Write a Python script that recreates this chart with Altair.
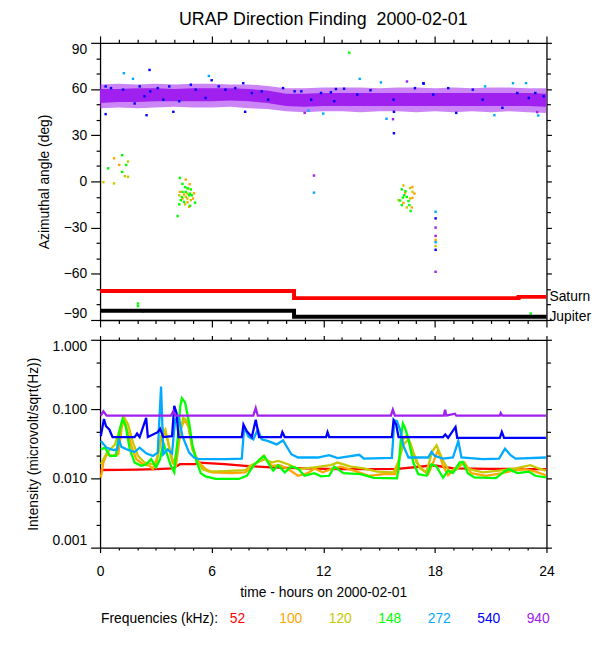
import altair as alt
import pandas as pd

FONT = "Liberation Sans"

# ---------------- categories / colours ----------------
FREQS = ["52", "100", "120", "148", "272", "540", "940"]
COLORS = ["#ff0000", "#ffa500", "#c8c800", "#00ff00", "#00aaff", "#0000ff", "#a020f0"]
PURPLE = "#a020f0"

# ---------------- top panel: azimuth (deg) ----------------
band_h = [0, 1, 2, 3, 4, 5, 6, 7, 8, 9, 10, 11, 12, 13, 14, 15, 16, 17, 18, 19, 20, 21, 22, 23, 24]
core_lo = [51.0, 51.5, 51.5, 52.0, 52.0, 52.0, 52.0, 52.5, 52.0, 51.0, 49.0, 48.5, 49.0, 49.0, 49.0,
           49.0, 49.0, 49.0, 49.0, 49.0, 49.0, 49.0, 49.0, 49.0, 48.5]
core_hi = [60.0, 60.0, 60.5, 60.5, 60.0, 60.5, 60.5, 60.5, 60.0, 59.0, 57.0, 57.0, 57.5, 57.5, 57.5,
           57.5, 57.5, 57.5, 57.5, 57.5, 57.5, 57.5, 57.5, 57.5, 57.0]
fringe_lo = [47.5, 48.0, 47.5, 48.0, 48.5, 48.0, 48.0, 48.5, 47.5, 47.0, 45.5, 45.0, 45.5, 45.5, 45.0,
             45.5, 45.5, 45.0, 45.5, 45.0, 45.5, 45.0, 45.5, 45.0, 44.5]
fringe_hi = [63.0, 63.5, 63.0, 63.5, 63.0, 63.5, 63.5, 63.0, 63.0, 62.0, 60.5, 60.5, 61.0, 61.0, 61.0,
             60.5, 61.0, 61.0, 60.5, 61.0, 60.5, 61.0, 61.0, 60.5, 60.5]

sc100_h = [0.75, 1.03, 4.61, 4.82, 4.29, 5.05, 4.52, 4.43, 5.00, 4.70, 4.79, 16.79, 16.90, 16.40, 16.31, 16.76, 16.79, 18.04]
sc100_d = [15.0, 10.7, 1.2, -1.8, -6.8, -7.7, -8.5, -11.1, -11.1, -13.6, -16.5, -3.7, -7.9, -7.3, -13.9, -16.9, -10.7, -38.0]

sc120_h = [0.18, 0.75, 1.33, 1.50, 1.50, 4.75, 4.70, 4.26, 4.61, 4.70, 4.88, 4.57, 16.31, 16.67, 16.67, 16.49, 16.05, 16.80, 18.04]
sc120_d = [-0.5, -1.3, 3.4, 3.0, 12.9, -4.7, -7.9, -9.0, -10.1, -11.1, -12.2, -14.9, -2.6, -4.3, -11.1, -16.9, -12.2, -6.8, -42.0]

sc148_h = [0.44, 1.19, 1.19, 1.40, 4.29, 4.43, 4.57, 4.70, 4.88, 4.43, 4.61, 4.84, 4.40, 4.79, 4.93, 4.34, 4.52, 4.26,
           4.84, 5.11, 4.17, 2.04, 2.04, 13.40, 23.15, 16.22, 16.35, 16.28, 16.49, 16.13, 16.58, 16.22, 16.70, 16.42, 16.63]
sc148_d = [8.5, 17.0, 6.2, 10.7, 2.3, -1.6, -3.7, -4.4, -5.2, -6.8, -6.8, -7.9, -10.1, -9.0, -9.0, -12.2, -13.3, -14.9,
           -15.8, -13.8, -22.5, -79.3, -81.0, 83.6, -85.8, -5.2, -9.0, -10.5, -10.1, -12.4, -12.8, -15.4, -19.2, -6.4, -15.4]

sc272_h = [2.30, 11.50, 1.28, 1.77, 5.85, 13.96, 15.10, 22.90, 22.20, 20.70, 15.40, 12.00, 11.20, 21.20, 23.56, 18.04, 18.04]
sc272_d = [-84.5, -7.3, 70.3, 66.6, 68.5, 66.6, 64.3, 63.8, 63.8, 61.7, 40.7, 44.0, 46.0, 43.0, 42.8, -19.7, -39.5]

sc940_h = [11.50, 11.00, 16.50, 23.50, 15.75, 18.04, 18.04, 18.04]
sc940_d = [3.8, 44.5, 64.9, 45.0, 40.4, -30.0, -35.4, -58.7]

sc540_h = [2.66, 0.30, 2.50, 3.94, 7.80, 15.80, 15.80, 17.40, 7.70, 6.00, 18.04, 18.04,
           0.30, 0.59, 1.24, 1.86, 2.13, 2.39, 2.70, 3.10, 3.40, 3.72, 4.26, 4.88, 5.14, 5.67, 6.38,
           6.74, 7.27, 8.16, 8.69, 9.04, 9.84, 10.46, 10.82, 11.35, 11.88, 12.41, 12.59, 12.68, 13.12,
           13.83, 14.54, 15.78, 16.93, 17.38, 17.91, 18.72, 19.15, 20.04, 20.57, 21.63, 22.43, 23.05, 23.40, 23.85]
sc540_d = [72.4, 43.7, 43.0, 45.2, 45.2, 45.2, 31.3, 63.5, 63.8, 65.7, -24.0, -44.4,
           61.7, 60.6, 59.6, 50.6, 61.7, 55.3, 58.5, 60.6, 53.1, 61.7, 52.1, 62.8, 59.6, 54.2, 61.7,
           59.6, 60.6, 57.4, 58.5, 53.1, 60.6, 58.5, 58.5, 53.1, 57.4, 57.9, 52.1, 60.0, 60.2,
           56.4, 59.2, 53.1, 60.6, 63.8, 56.4, 60.6, 44.5, 59.6, 53.1, 47.8, 57.4, 54.2, 57.4, 55.3]

planet_h = [0.0, 10.43, 22.5, 24.0]
saturn_deg = [-71.2, -75.8, -75.0, -75.0]
jupiter_deg = [-84.0, -87.9, -87.9, -87.9]

# ---------------- bottom panel: intensity ----------------
h52 = [0.0, 1.0, 2.0, 3.0, 3.9, 4.3, 5.1, 5.3, 6.7, 7.8, 9.2, 11.0, 12.8, 14.5, 16.0, 17.7, 18.1, 19.0, 21.0, 23.0, 24.0]
v52 = [0.0132, 0.0133, 0.0134, 0.0136, 0.0139, 0.0160, 0.0160, 0.0169, 0.0160, 0.0152, 0.0144, 0.0139, 0.0136,
       0.0136, 0.0137, 0.0152, 0.0152, 0.0139, 0.0137, 0.0136, 0.0136]

h100 = [0.04, 0.18, 0.35, 0.62, 0.98, 1.15, 1.28, 1.45, 1.68, 1.95, 2.30, 2.66, 2.84, 3.10, 3.40, 3.63, 3.90, 4.08,
        4.34, 4.52, 4.75, 4.96, 5.32, 5.67, 6.03, 7.09, 7.80, 8.16, 8.51, 8.78, 9.22, 9.66, 10.11, 10.64, 11.17,
        11.52, 11.97, 12.41, 12.94, 13.65, 14.45, 15.25, 15.87, 16.05, 16.28, 16.45, 16.67, 17.02, 17.38, 17.64,
        17.91, 18.17, 18.44, 18.71, 19.06, 19.59, 19.95, 20.74, 21.63, 22.16, 22.87, 23.40, 23.97]
v100 = [0.0103, 0.0169, 0.0223, 0.0211, 0.0223, 0.0507, 0.0720, 0.0507, 0.0293, 0.0189, 0.0160, 0.0152, 0.0136,
        0.0211, 0.0500, 0.0365, 0.0169, 0.0152, 0.0507, 0.0704, 0.0566, 0.0262, 0.0169, 0.0136, 0.0122, 0.0119,
        0.0122, 0.0144, 0.0179, 0.0211, 0.0152, 0.0155, 0.0136, 0.0109, 0.0119, 0.0139, 0.0122, 0.0136, 0.0148,
        0.0129, 0.0109, 0.0115, 0.0115, 0.0169, 0.0365, 0.0407, 0.0327, 0.0169, 0.0129, 0.0115, 0.0169, 0.0257,
        0.0152, 0.0111, 0.0139, 0.0169, 0.0119, 0.0109, 0.0119, 0.0129, 0.0136, 0.0125, 0.0111]

h120 = [0.04, 0.35, 0.80, 1.06, 1.28, 1.51, 1.77, 2.04, 2.39, 2.84, 3.01, 3.28, 3.51, 3.81, 3.99, 4.22, 4.47, 4.70,
        4.96, 5.23, 5.50, 5.85, 6.74, 7.80, 8.07, 8.51, 8.87, 9.22, 9.57, 10.11, 10.64, 11.52, 12.41, 12.77, 13.48,
        14.18, 14.89, 15.78, 16.05, 16.31, 16.58, 16.84, 17.20, 17.55, 17.87, 18.09, 18.44, 18.79, 19.15, 19.50,
        19.86, 20.57, 21.45, 22.34, 23.14, 23.58, 23.97]
v120 = [0.0160, 0.0230, 0.0309, 0.0507, 0.0769, 0.0598, 0.0327, 0.0211, 0.0169, 0.0160, 0.0148, 0.0407, 0.0507,
        0.0211, 0.0165, 0.0365, 0.0744, 0.0667, 0.0293, 0.0179, 0.0136, 0.0125, 0.0127, 0.0131, 0.0152, 0.0173,
        0.0189, 0.0169, 0.0179, 0.0160, 0.0136, 0.0144, 0.0155, 0.0169, 0.0148, 0.0139, 0.0125, 0.0122, 0.0179,
        0.0309, 0.0365, 0.0235, 0.0139, 0.0125, 0.0248, 0.0299, 0.0179, 0.0125, 0.0133, 0.0165, 0.0136, 0.0122,
        0.0129, 0.0139, 0.0155, 0.0139, 0.0129]

h148 = [0.04, 0.27, 0.53, 0.85, 1.06, 1.21, 1.38, 1.60, 1.86, 2.22, 2.48, 2.75, 3.01, 3.23, 3.40, 3.63, 3.81, 3.99,
        4.17, 4.31, 4.40, 4.57, 4.79, 4.96, 5.18, 5.41, 5.67, 6.21, 7.45, 7.89, 8.24, 8.60, 8.83, 9.13, 9.31, 9.57,
        9.93, 10.28, 10.64, 10.99, 11.52, 11.88, 12.32, 12.59, 13.09, 14.01, 14.72, 15.96, 16.05, 16.17, 16.28,
        16.40, 16.58, 16.84, 17.11, 17.55, 17.82, 18.09, 18.44, 18.71, 18.97, 19.33, 19.50, 19.77, 20.12, 21.28,
        21.72, 21.99, 22.43, 23.05, 23.40, 23.97]
v148 = [0.0262, 0.0277, 0.0211, 0.0211, 0.0507, 0.0720, 0.0566, 0.0262, 0.0169, 0.0152, 0.0160, 0.0189, 0.0144,
        0.0189, 0.0327, 0.0211, 0.0152, 0.0122, 0.0365, 0.1090, 0.1436, 0.1245, 0.0631, 0.0309, 0.0179, 0.0119,
        0.0107, 0.0098, 0.0098, 0.0109, 0.0152, 0.0189, 0.0211, 0.0152, 0.0129, 0.0155, 0.0122, 0.0148, 0.0139,
        0.0109, 0.0119, 0.0107, 0.0109, 0.0148, 0.0119, 0.0115, 0.0102, 0.0100, 0.0136, 0.0365, 0.0617, 0.0535,
        0.0365, 0.0169, 0.0115, 0.0109, 0.0160, 0.0148, 0.0102, 0.0129, 0.0119, 0.0169, 0.0173, 0.0119, 0.0103,
        0.0101, 0.0125, 0.0136, 0.0119, 0.0125, 0.0109, 0.0103]

h272 = [0.04, 0.35, 0.71, 0.92, 1.01, 1.15, 1.51, 1.86, 2.13, 2.48, 2.84, 3.10, 3.28, 3.40, 3.63, 3.87, 4.04, 4.22,
        4.43, 4.79, 5.05, 5.32, 6.74, 7.62, 7.75, 7.98, 8.24, 8.48, 8.69, 9.04, 9.49, 9.84, 10.28, 10.64, 11.70,
        12.32, 12.77, 13.94, 14.18, 15.69, 15.82, 15.96, 16.13, 16.31, 16.58, 17.64, 17.82, 18.00, 18.44, 18.97,
        19.26, 19.43, 20.57, 21.45, 21.77, 22.07, 22.34, 23.97]
v272 = [0.0345, 0.0277, 0.0257, 0.0262, 0.0365, 0.0285, 0.0257, 0.0240, 0.0277, 0.0230, 0.0211, 0.0235, 0.2110,
        0.0223, 0.0262, 0.0230, 0.0704, 0.0785, 0.0407, 0.0235, 0.0200, 0.0189, 0.0189, 0.0193, 0.0553, 0.0398,
        0.0365, 0.0507, 0.0365, 0.0345, 0.0309, 0.0353, 0.0223, 0.0200, 0.0200, 0.0216, 0.0196, 0.0219, 0.0193,
        0.0198, 0.0689, 0.0667, 0.0507, 0.0293, 0.0200, 0.0200, 0.0240, 0.0211, 0.0193, 0.0200, 0.0345, 0.0200,
        0.0189, 0.0193, 0.0268, 0.0216, 0.0193, 0.0200]

h540 = [0.04, 0.21, 0.32, 0.50, 0.67, 1.86, 1.99, 2.13, 2.48, 2.57, 3.10, 3.23, 3.40, 3.87, 3.99, 4.11, 4.22, 7.62,
        7.71, 7.89, 8.16, 8.37, 8.55, 9.72, 9.80, 9.93, 12.15, 12.23, 12.32, 15.69, 15.78, 15.92, 16.05, 18.44,
        18.56, 18.71, 19.11, 19.20, 21.49, 21.60, 21.72, 23.97]
v540 = [0.0407, 0.0720, 0.0566, 0.0507, 0.0394, 0.0394, 0.0444, 0.0394, 0.0744, 0.0394, 0.0464, 0.0518, 0.0394,
        0.0407, 0.1116, 0.0877, 0.0394, 0.0394, 0.0598, 0.0480, 0.0394, 0.0704, 0.0394, 0.0394, 0.0464, 0.0394,
        0.0394, 0.0464, 0.0394, 0.0394, 0.0689, 0.0598, 0.0394, 0.0394, 0.0430, 0.0385, 0.0553, 0.0385, 0.0385,
        0.0469, 0.0385, 0.0385]

h940 = [0.04, 0.18, 0.35, 3.81, 3.94, 4.04, 8.24, 8.37, 8.48, 15.64, 15.74, 15.85, 18.48, 18.55, 18.62, 19.08,
        19.15, 21.49, 21.54, 21.63, 23.97]
v940 = [0.0803, 0.0926, 0.0803, 0.0803, 0.0926, 0.0803, 0.0803, 0.1033, 0.0803, 0.0803, 0.0978, 0.0803, 0.0803,
        0.0978, 0.0803, 0.0858, 0.0803, 0.0803, 0.0877, 0.0803, 0.0803]

# ---------------- axis tick values ----------------
X_MAJOR = [0, 6, 12, 18, 24]
X_MINOR = [h for h in range(25) if h % 6]
ANG_MAJOR = [-90, -60, -30, 0, 30, 60, 90]
ANG_MINOR = [d for d in range(-80, 90, 10) if d % 30]
INT_MAJOR = [0.001, 0.01, 0.1, 1.0]
INT_MINOR = [10 ** (-k / 3) for k in range(1, 9) if k % 3]

TITLE = "URAP Direction Finding\u00a0 2000-02-01"
X_TITLE = "time - hours on 2000-02-01"

# ---------------- scales & styles ----------------
X_SCALE = alt.Scale(domain=[0, 24], nice=False, zero=False)
ANG_SCALE = alt.Scale(domain=[-90, 90], nice=False, zero=False)
INT_SCALE = alt.Scale(type="log", domain=[0.001, 1], nice=False)
COLOR_SCALE = alt.Scale(domain=FREQS, range=COLORS)

AXIS_STYLE = dict(grid=False, domainColor="black", tickColor="black", labelColor="black",
                  titleColor="black", domainWidth=1.3, tickWidth=1.2, labelFont=FONT, titleFont=FONT,
                  labelFontSize=14, titleFontSize=14, titleFontWeight="normal")


def frame_layers(data, yfield, yscale, y_major, y_minor, y_format, y_title, x_labels_on, t):
    out = []
    spec = [
        ("bottom", X_MAJOR, t[0], "left", y_major, t[4], True, True),
        ("bottom", X_MINOR, t[1], "left", y_minor, t[5], False, False),
        ("top", X_MAJOR, t[2], "right", y_major, t[6], False, True),
        ("top", X_MINOR, t[3], "right", y_minor, t[7], False, False),
    ]
    for xo, xv, xs, yo, yv, ys, main, dom in spec:
        xl = main and x_labels_on
        xkw = dict(AXIS_STYLE, orient=xo, values=xv, tickSize=xs, labels=xl, domain=dom, format="d")
        if xl:
            xkw.update(labelPadding=12, labelFlush=False, titlePadding=7)
        ykw = dict(AXIS_STYLE, orient=yo, values=yv, tickSize=ys, labels=main, domain=dom, format=y_format)
        if main:
            ykw.update(labelPadding=4, labelFlush=True, titlePadding=12)
        out.append(
            alt.Chart(data).mark_point(opacity=0).encode(
                x=alt.X("h:Q", scale=X_SCALE, axis=alt.Axis(**xkw), title=X_TITLE if xl else None),
                y=alt.Y(f"{yfield}:Q", scale=yscale, axis=alt.Axis(**ykw), title=y_title if main else None),
            )
        )
    return out


# ---------------- top panel ----------------
band_df = pd.DataFrame({"h": band_h, "clo": core_lo, "chi": core_hi, "flo": fringe_lo, "fhi": fringe_hi})

sc_parts = []
for f, hs, ds in [("100", sc100_h, sc100_d), ("120", sc120_h, sc120_d), ("148", sc148_h, sc148_d),
                  ("272", sc272_h, sc272_d), ("940", sc940_h, sc940_d), ("540", sc540_h, sc540_d)]:
    sc_parts.append(pd.DataFrame({"h": hs, "deg": ds, "freq": f}))
scatter_df = pd.concat(sc_parts, ignore_index=True)

planet_df = pd.DataFrame({"h": planet_h, "sat": saturn_deg, "jup": jupiter_deg})
planet_lab = pd.DataFrame({"h": [planet_h[-1], planet_h[-1]], "deg": [saturn_deg[-1], jupiter_deg[-1]],
                           "name": ["Saturn", "Jupiter"]})

xenc = alt.X("h:Q", scale=X_SCALE, axis=None)

fringe = alt.Chart(band_df).mark_area(color=PURPLE, opacity=0.55).encode(
    x=xenc, y=alt.Y("flo:Q", scale=ANG_SCALE, axis=None), y2="fhi:Q")
core = alt.Chart(band_df).mark_area(color=PURPLE, opacity=1).encode(
    x=xenc, y=alt.Y("clo:Q", scale=ANG_SCALE, axis=None), y2="chi:Q")
dots = alt.Chart(scatter_df).mark_square(size=6, opacity=1).encode(
    x=xenc, y=alt.Y("deg:Q", scale=ANG_SCALE, axis=None),
    color=alt.Color("freq:N", scale=COLOR_SCALE, legend=None))
sat_line = alt.Chart(planet_df).mark_line(color="#ff0000", strokeWidth=4, interpolate="step-after").encode(
    x=xenc, y=alt.Y("sat:Q", scale=ANG_SCALE, axis=None))
jup_line = alt.Chart(planet_df).mark_line(color="black", strokeWidth=4, interpolate="step-after").encode(
    x=xenc, y=alt.Y("jup:Q", scale=ANG_SCALE, axis=None))
plabels = alt.Chart(planet_lab).mark_text(align="left", baseline="middle", dx=3, fontSize=14, font=FONT,
                                         color="black").encode(
    x=xenc, y=alt.Y("deg:Q", scale=ANG_SCALE, axis=None), text="name:N")

top_frame = frame_layers(pd.DataFrame({"h": [0.0, 24.0], "deg": [-90.0, 90.0]}), "deg", ANG_SCALE,
                         ANG_MAJOR, ANG_MINOR, "d", "Azimuthal angle (deg)", False,
                         [7, 3.5, 7, 3.5, 9.5, 4, 5, 4])

top = alt.layer(fringe, core, dots, sat_line, jup_line, plabels, *top_frame).resolve_axis(
    x="independent", y="independent"
).properties(
    width=451, height=280,
    title=alt.TitleParams(TITLE, font=FONT, fontSize=18, fontWeight="normal", color="black",
                          anchor="middle", frame="group", offset=6),
)

# ---------------- bottom panel ----------------
series = [(h52, v52), (h100, v100), (h120, v120), (h148, v148), (h272, v272), (h540, v540), (h940, v940)]
lines = []
for (hs, vs), col in zip(series, COLORS):
    lines.append(
        alt.Chart(pd.DataFrame({"h": hs, "v": vs})).mark_line(color=col, strokeWidth=2.3).encode(
            x=xenc, y=alt.Y("v:Q", scale=INT_SCALE, axis=None))
    )

bot_frame = frame_layers(pd.DataFrame({"h": [0.0, 24.0], "v": [0.001, 1.0]}), "v", INT_SCALE,
                         INT_MAJOR, INT_MINOR, ".3f", "Intensity (microvolt/sqrt(Hz))", True,
                         [5, 2.5, 4.3, 2.7, 9.5, 4, 5, 4])

bottom = alt.layer(*lines, *bot_frame).resolve_axis(x="independent", y="independent").properties(
    width=451, height=210)

# ---------------- frequency legend row ----------------
legend_df = pd.DataFrame({"freq": FREQS})
legend_vals = alt.Chart(legend_df).mark_text(align="left", baseline="middle", fontSize=14, font=FONT).encode(
    x=alt.X("freq:N", scale=alt.Scale(type="point", domain=FREQS, range=[131, 431], padding=0), axis=None),
    y=alt.value(52),
    text="freq:N",
    color=alt.Color("freq:N", scale=COLOR_SCALE, legend=None),
)
legend_lab = alt.Chart(pd.DataFrame({"t": ["Frequencies (kHz):"]})).mark_text(
    align="left", baseline="middle", fontSize=14, font=FONT, color="black"
).encode(x=alt.value(1), y=alt.value(52), text="t:N")
legend = alt.layer(legend_lab, legend_vals).properties(width=451, height=60)

chart = alt.vconcat(top, bottom, legend, spacing=20, bounds="flush").properties(
    padding={"left": 18, "top": 0, "right": 0, "bottom": 0}
).configure_view(stroke=None).configure_text(font=FONT)

chart.save("out.html", embed_options={"renderer": "svg", "actions": False})
